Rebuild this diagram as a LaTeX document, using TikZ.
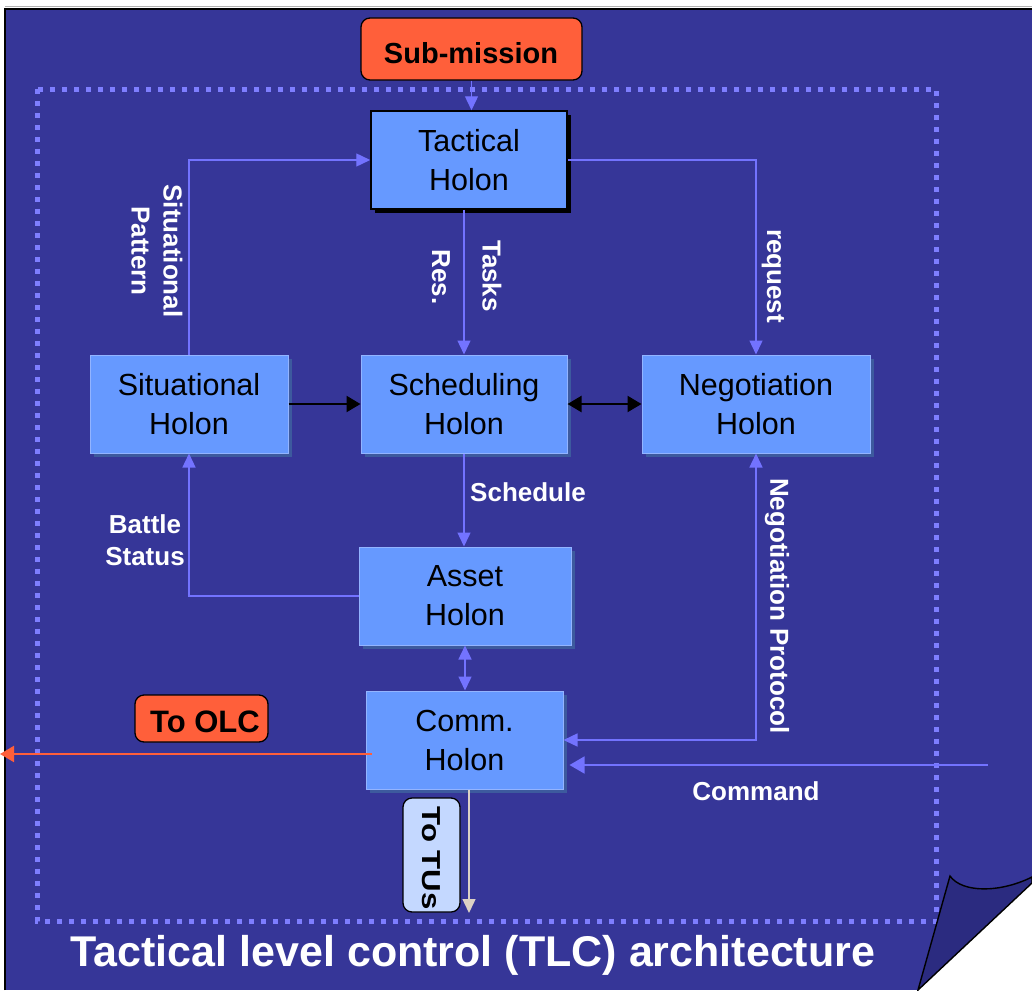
\documentclass[tikz,border=0pt]{standalone}
\usepackage{fontspec}
\setmainfont{Liberation Sans}
\usetikzlibrary{arrows.meta,shadows,calc}
\definecolor{pagebg}{HTML}{363698}
\definecolor{dotc}{HTML}{7E7EFF}
\definecolor{holonfill}{HTML}{6699FF}
\definecolor{holonedge}{HTML}{93B4FF}
\definecolor{holonshadow}{HTML}{3D5A9E}
\definecolor{connc}{HTML}{7373FF}
\definecolor{orangec}{HTML}{FF5F3A}
\definecolor{tusfill}{HTML}{C4D8FF}
\definecolor{tusline}{HTML}{DCD2C4}
\definecolor{flapc}{HTML}{2B2B80}
\begin{document}
\begin{tikzpicture}[x=1pt,y=-1pt,
  holon/.style={draw=holonedge, line width=1pt, fill=holonfill, minimum height=98pt,
    inner sep=0pt, align=center, text=black, font=\fontsize{30.5}{39}\selectfont,
    drop shadow={shadow xshift=4pt, shadow yshift=-4pt, fill=holonshadow, opacity=1}},
  tachol/.style={holon, draw=black, line width=1.5pt,
    drop shadow={shadow xshift=4pt, shadow yshift=-4pt, fill=black, opacity=1}},
  tag/.style={draw=black, line width=1.3pt, fill=orangec, rounded corners=9pt, inner sep=0pt,
    text=black, font=\bfseries\fontsize{29}{34}\selectfont},
  conn/.style={draw=connc, line width=1.4pt, -{Triangle[length=14pt,width=13pt]}},
  conn2/.style={draw=connc, line width=1.4pt, {Triangle[length=14pt,width=13pt]}-{Triangle[length=14pt,width=13pt]}},
  blk/.style={draw=black, line width=2.2pt},
  lab/.style={text=white, inner sep=0pt, align=center, font=\bfseries\fontsize{26}{32}\selectfont}]
\useasboundingbox (0,0) rectangle (1032,990);
% page
\fill[pagebg] (5,9) rectangle (1032,990);
\draw[gray!60, line width=1pt] (5,6.5) -- (1032,6.5);
\draw[black, line width=1.6pt] (5,990) -- (5,9) -- (1032,9);
% dotted frame
\draw[dotc, line width=5pt, dash pattern=on 5pt off 7pt] (37,89) rectangle (936,921);
% nodes
\node[tag, minimum width=221pt, minimum height=62pt] (sub) at (471.5,49) {};
\node[lab, text=black, font=\bfseries\fontsize{29}{34}\selectfont] (subt) at (471,53) {Sub-mission};
\node[tachol, minimum width=196pt] (tac) at (469,160) {Tactical\\Holon};
\node[holon, minimum width=198pt] (sit) at (189,404) {Situational\\Holon};
\node[holon, minimum width=206pt] (sch) at (464,404) {Scheduling\\Holon};
\node[holon, minimum width=228pt] (neg) at (756,404) {Negotiation\\Holon};
\node[holon, minimum width=212pt] (ast) at (465,596) {Asset\\Holon};
\node[holon, minimum width=197pt] (com) at (464.5,740) {Comm.\\Holon};
\node[tag, minimum width=133pt, minimum height=47pt] (olcb) at (201.5,718.5) {};
\node[lab, text=black, font=\bfseries\fontsize{31}{34}\selectfont] (olct) at (205,722) {To OLC};
\node[draw=black, line width=1.3pt, fill=tusfill, rounded corners=9pt, minimum width=57pt, minimum height=114pt] (tusb) at (431.5,855) {};
\node[lab, text=black, rotate=-90] (tust) at (431,858) {\scalebox{1.2}[1]{To TUs}};
% connectors
\draw[conn] (sub.south) -- (sub.south |- tac.north);
\draw[conn] (sit.north) |- (tac.west);
\draw[conn] (sch.north |- tac.south) -- (sch.north);
\draw[conn] (tac.east) -| (neg.north);
\draw[blk, -{Triangle[length=14pt,width=16pt]}] (sit.east) -- (sch.west);
\draw[blk, {Triangle[length=14pt,width=16pt]}-{Triangle[length=14pt,width=16pt]}] (sch.east) -- (neg.west);
\draw[conn] (sch.south) -- (sch.south |- ast.north);
\draw[conn] (ast.west) -| (sit.south);
\draw[conn2] (ast.south) -- (ast.south |- com.north);
\draw[conn2] (com.east) -| (neg.south);
\coordinate (cmd) at (988,765);
\draw[draw=connc, line width=1.6pt, -{Triangle[length=15pt,width=17pt]}] (cmd) -- ($(com.east |- cmd)+(6,0)$);
\coordinate (olc) at (0,754);
\draw[draw=orangec, line width=2pt, -{Triangle[length=14pt,width=16pt]}] ($(com.west |- olc)+(6,0)$) -- (olc);
\coordinate (tus) at (469,913);
\draw[draw=tusline, line width=1.4pt, -{Triangle[length=14pt,width=13pt]}] (tus |- com.south) -- (tus);
% labels
\node[lab, rotate=-90] (lsp) at (157,251) {Situational\\Pattern};
\node[lab, rotate=-90] (ltask) at (492,276) {Tasks};
\node[lab, rotate=-90] (lres) at (441,277) {Res.};
\node[lab, rotate=-90] (lreq) at (773,276) {request};
\node[lab, rotate=-90] (lneg) at (777,606) {Negotiation Protocol};
\node[lab, anchor=west] (lsched) at (470,492) {Schedule};
\node[lab] (lbat) at (145,540) {Battle\\Status};
\node[lab] (lcmd) at (756,791) {Command};
\node[lab, font=\bfseries\fontsize{43}{48}\selectfont] (title) at (473,955) {Tactical level control (TLC) architecture};
% page curl
\fill[white] (1032,883) -- (1032,990) -- (918,990) -- cycle;
\draw[black, line width=1.4pt, fill=flapc] (950,876) .. controls (962,893) and (1000,893) .. (1032,877) -- (1032,883) -- (918,990) -- cycle;
\end{tikzpicture}
\end{document}
